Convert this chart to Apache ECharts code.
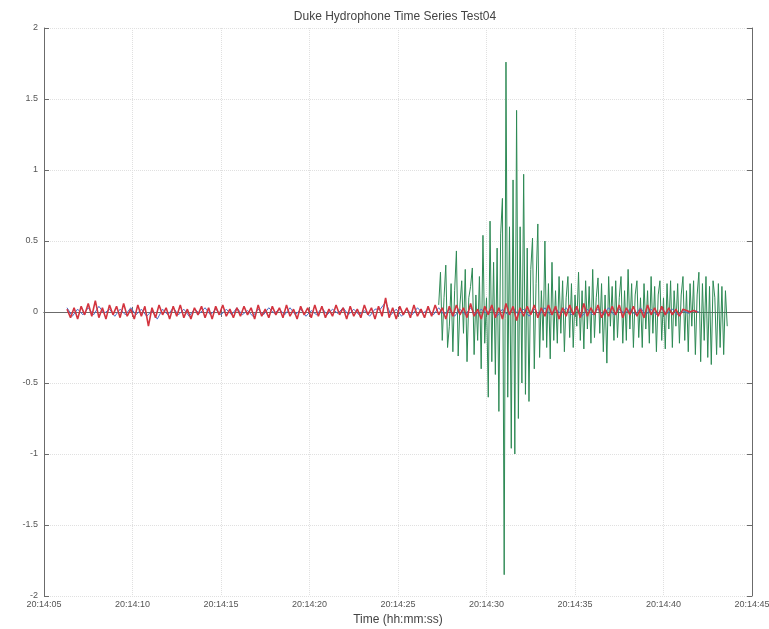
<!DOCTYPE html>
<html>
<head>
<meta charset="utf-8">
<script src="https://cdn.jsdelivr.net/npm/echarts@6/dist/echarts.min.js"></script>
<style>
  html, body { margin: 0; padding: 0; background: #fff; }
  #chart { width: 769px; height: 629px; }
</style>
</head>
<body>
<div id="chart"></div>
<script>
// x in seconds past 20:14:00
const xTicks = [5, 10, 15, 20, 25, 30, 35, 40, 45];
const yTicks = [-2, -1.5, -1, -0.5, 0, 0.5, 1, 1.5, 2];

// green trace (hydrophone 3), sampled every 0.1 s from 27.3 s
const greenStart = 27.3;
const greenStep = 0.1;
const greenValues = [
  0.05, 0.28, -0.2, 0.1, 0.33, -0.25, -0.1, 0.2, -0.28, 0.15,
  0.43, -0.31, 0.05, 0.22, -0.15, 0.3, -0.35, 0.1, 0.18, 0.31,
  -0.3, 0.12, -0.2, 0.25, -0.4, 0.54, -0.22, 0.1, -0.6, 0.64,
  -0.35, 0.35, -0.44, 0.45, -0.7, 0.55, 0.8, -1.85, 1.76, -0.6,
  0.6, -0.96, 0.93, -1.0, 1.42, -0.75, 0.6, -0.5, 0.97, -0.58,
  0.45, -0.63, 0.3, 0.52, -0.4, 0.2, 0.62, -0.32, 0.15, -0.2,
  0.5, -0.25, 0.2, -0.33, 0.35, -0.2, 0.15, -0.22, 0.25, -0.15,
  0.22, -0.28, 0.1, 0.25, -0.18, 0.2, -0.25, 0.12, -0.1, 0.28,
  -0.2, 0.15, -0.26, 0.22, -0.12, 0.18, -0.22, 0.3, -0.18, 0.1,
  0.24, -0.15, 0.2, -0.28, 0.12, -0.36, 0.25, -0.1, 0.18, -0.2,
  0.22, -0.18, 0.1, 0.25, -0.22, 0.15, -0.2, 0.3, -0.12, 0.2,
  -0.25, 0.12, 0.22, -0.18, 0.1, -0.25, 0.2, -0.12, 0.15, -0.22,
  0.25, -0.15, 0.18, -0.28, 0.12, 0.22, -0.2, 0.1, -0.26, 0.2,
  -0.12, 0.22, -0.25, 0.15, -0.1, 0.2, -0.22, 0.12, 0.25, -0.2,
  0.15, -0.28, 0.2, -0.1, 0.22, -0.3, 0.12, 0.28, -0.35, 0.2,
  -0.2, 0.25, -0.32, 0.18, -0.37, 0.22, 0.1, -0.3, 0.2, -0.25,
  0.18, -0.3, 0.15, -0.1
];

// red trace, every 0.2 s from 6.3 s
const redStart = 6.3;
const redStep = 0.2;
const redValues = [
  0.02, -0.04, 0.03, -0.05, 0.04, -0.02, 0.06, -0.03, 0.08, -0.04,
  0.03, -0.05, 0.05, -0.02, 0.04, -0.04, 0.06, -0.03, 0.02, -0.05,
  0.05, -0.03, 0.04, -0.1, 0.03, -0.04, 0.05, -0.02, 0.03, -0.05,
  0.04, -0.03, 0.05, -0.04, 0.02, -0.05, 0.03, -0.02, 0.04, -0.04,
  0.03, -0.05, 0.04, -0.02, 0.05, -0.03, 0.02, -0.04, 0.03, -0.03,
  0.04, -0.02, 0.03, -0.05, 0.05, -0.03, 0.02, -0.04, 0.04, -0.02,
  0.03, -0.04, 0.05, -0.03, 0.02, -0.05, 0.04, -0.02, 0.03, -0.04,
  0.05, -0.03, 0.04, -0.04, 0.02, -0.03, 0.05, -0.02, 0.03, -0.05,
  0.04, -0.03, 0.02, -0.04, 0.05, -0.02, 0.03, -0.05, 0.04, -0.03,
  0.1, -0.04, 0.03, -0.05, 0.04, -0.02, 0.03, -0.04, 0.05, -0.03,
  0.02, -0.04, 0.04, -0.03, 0.05, -0.02, 0.03, -0.05, 0.04, -0.03,
  0.05, -0.02, 0.03, -0.04, 0.06, -0.03, 0.02, -0.05, 0.04, -0.02,
  0.05, -0.04, 0.03, -0.05, 0.06, -0.02, 0.04, -0.06, 0.03, -0.03,
  0.04, -0.02, 0.05, -0.04, 0.03, -0.03, 0.05, -0.02, 0.04, -0.05,
  0.03, -0.03, 0.05, -0.02, 0.04, -0.04, 0.06, -0.03, 0.03, -0.02,
  0.05, -0.04, 0.02, -0.03, 0.04, -0.02, 0.05, -0.04, 0.03, -0.02,
  0.04, -0.03, 0.02, -0.04, 0.05, -0.02, 0.03, -0.03, 0.04, -0.02,
  0.03, -0.02, 0.02, -0.03, 0.02, 0.01, 0.0, 0.01, 0.0
];

// blue trace, every 0.3 s from 6.3 s (almost hidden under the red)
const blueStart = 6.3;
const blueStep = 0.3;
const blueValues = [
  0.03, -0.03, 0.02, -0.02, 0.03, -0.02, 0.04, -0.01, 0.02, -0.03,
  0.02, -0.02, 0.03, -0.02, 0.02, -0.03, 0.01, -0.05, 0.02, -0.02,
  0.03, -0.02, 0.02, -0.03, 0.02, -0.01, 0.03, -0.02, 0.02, -0.02,
  0.02, -0.02, 0.03, -0.02, 0.01, -0.03, 0.02, -0.02, 0.03, -0.01,
  0.02, -0.02, 0.03, -0.02, 0.02, -0.03, 0.01, -0.02, 0.03, -0.02,
  0.02, -0.01, 0.03, -0.02, 0.02, -0.02, 0.01, -0.03, 0.02, 0.02,
  0.07, -0.02, 0.02, -0.03, 0.02, -0.02, 0.03, -0.01, 0.02, -0.02,
  0.03, -0.02, 0.02, -0.03, 0.02, -0.02, 0.03, -0.02, 0.02, -0.01,
  0.02, -0.03, 0.02, -0.02, 0.03, -0.02, 0.02, -0.03, 0.02, -0.02,
  0.03, -0.02, 0.02, -0.01, 0.03, -0.02, 0.02, -0.03, 0.02, -0.02,
  0.02, -0.02, 0.03, -0.02, 0.02, -0.01, 0.02, -0.02, 0.03, -0.02,
  0.02, -0.02, 0.02, -0.01, 0.02, -0.02, 0.01, -0.01, 0.01, 0.0
];

function toPairs(start, step, values) {
  return values.map((v, i) => [+(start + i * step).toFixed(2), v]);
}

function timeLabel(v) {
  return '20:14:' + String(Math.round(v)).padStart(2, '0');
}

const axisColor = '#6b6b6b';
const gridLine = { show: true, lineStyle: { color: '#e0e0e0', type: 'dotted', width: 1 } };

const chart = echarts.init(document.getElementById('chart'));
chart.setOption({
  animation: false,
  backgroundColor: '#fff',
  title: {
    text: 'Duke Hydrophone Time Series Test04',
    left: 390,
    textAlign: 'center',
    top: 6,
    textStyle: { fontFamily: 'Liberation Sans', fontSize: 12, fontWeight: 'normal', color: '#444' }
  },
  grid: { left: 44, right: 17, top: 28, bottom: 33, outerBoundsMode: 'none' },
  xAxis: [
    {
      type: 'value', min: xTicks[0], max: xTicks[xTicks.length - 1], interval: 5,
      position: 'bottom',
      name: 'Time (hh:mm:ss)', nameLocation: 'middle', nameGap: 17,
      nameTextStyle: { fontFamily: 'Liberation Sans', fontSize: 12, color: '#444' },
      axisLine: { lineStyle: { color: axisColor, width: 1 } },
      axisTick: { inside: true, length: 5, lineStyle: { color: axisColor } },
      axisLabel: { formatter: timeLabel, fontFamily: 'Liberation Sans', fontSize: 9, color: '#555', margin: 4 },
      splitLine: gridLine
    },
    {
      type: 'value', min: xTicks[0], max: xTicks[xTicks.length - 1], interval: 5,
      position: 'top',
      axisLine: { lineStyle: { color: axisColor, width: 1 } },
      axisTick: { inside: true, length: 5, lineStyle: { color: axisColor } },
      axisLabel: { show: false },
      splitLine: { show: false }
    }
  ],
  yAxis: [
    {
      type: 'value', min: yTicks[0], max: yTicks[yTicks.length - 1], interval: 0.5,
      position: 'left',
      axisLine: { show: true, lineStyle: { color: axisColor, width: 1 } },
      axisTick: { show: true, inside: true, length: 5, lineStyle: { color: axisColor } },
      axisLabel: { fontFamily: 'Liberation Sans', fontSize: 9, color: '#555', margin: 6 },
      splitLine: gridLine
    },
    {
      type: 'value', min: yTicks[0], max: yTicks[yTicks.length - 1], interval: 0.5,
      position: 'right',
      axisLine: { show: true, lineStyle: { color: axisColor, width: 1 } },
      axisTick: { show: true, inside: true, length: 5, lineStyle: { color: axisColor } },
      axisLabel: { show: false },
      splitLine: { show: false }
    }
  ],
  series: [
    {
      name: 'green', type: 'line', showSymbol: false, z: 2,
      data: toPairs(greenStart, greenStep, greenValues),
      lineStyle: { color: '#2e8a55', width: 1 }
    },
    {
      name: 'blue', type: 'line', showSymbol: false, z: 3,
      data: toPairs(blueStart, blueStep, blueValues),
      lineStyle: { color: '#4a6fc8', width: 1 }
    },
    {
      name: 'red', type: 'line', showSymbol: false, z: 4,
      data: toPairs(redStart, redStep, redValues),
      lineStyle: { color: '#d3343f', width: 1.6 }
    }
  ]
});
</script>
</body>
</html>
